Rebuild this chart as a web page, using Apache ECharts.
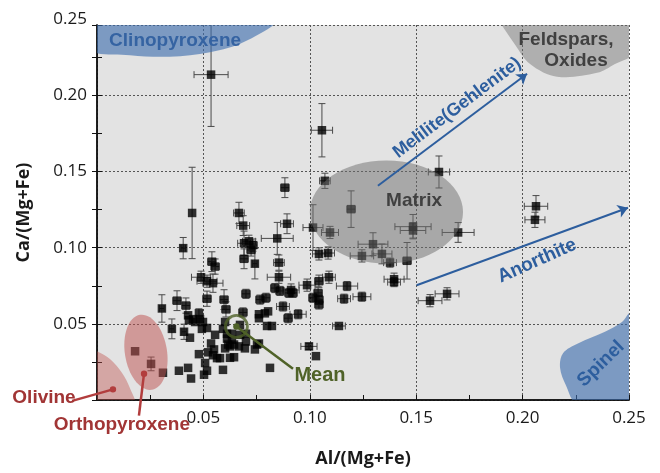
<!DOCTYPE html>
<html><head><meta charset="utf-8">
<script src="https://cdn.jsdelivr.net/npm/echarts@6/dist/echarts.min.js"></script>
<style>html,body{margin:0;padding:0;background:#fff}#c{width:660px;height:473px}</style>
</head><body><div id="c"></div>
<script>
// ---------- data ----------
const xTickLabels = [0.05, 0.10, 0.15, 0.20, 0.25];
const yTickLabels = [0.05, 0.10, 0.15, 0.20, 0.25];

const sampleX = [0.0536,0.0447,0.1057,0.1071,0.0883,0.1607,0.2063,0.2058,0.1194,0.1485,0.1485,0.1697,0.1095,0.1015,0.0667,0.0687,0.0893,0.0847,0.0405,0.0691,0.0714,0.0733,0.0724,0.0691,0.0742,0.1043,0.1086,0.0855,0.0540,0.0555,0.0489,0.0517,0.0545,0.0855,0.1090,0.1043,0.0987,0.0836,0.0860,0.0912,0.0921,0.0902,0.1015,0.1039,0.1043,0.1043,0.0700,0.0766,0.0794,0.0517,0.0597,0.0376,0.0418,0.0305,0.0606,0.0686,0.0874,0.0898,0.0945,0.0761,0.0789,0.0804,0.0761,0.0799,0.0822,0.1137,0.0428,0.0451,0.0432,0.0479,0.0484,0.0352,0.0409,0.0437,0.0498,0.0517,0.0493,0.0555,0.0536,0.0592,0.0611,0.0602,0.0634,0.0611,0.0634,0.0644,0.0616,0.0672,0.0700,0.0700,0.0667,0.0752,0.0761,0.0695,0.0742,0.0550,0.0578,0.0564,0.0545,0.0479,0.0522,0.0508,0.0517,0.0503,0.0592,0.0644,0.0813,0.0996,0.1029,0.0385,0.0428,0.0442,0.1297,0.1245,0.1339,0.1377,0.1457,0.1396,0.1396,0.1175,0.1161,0.1245,0.1565,0.1645,0.0461,0.0625,0.0602,0.0625,0.0672,0.0179,0.0254,0.0310];
const sampleY = [0.2136,0.1228,0.1771,0.1439,0.1394,0.1497,0.1272,0.1183,0.1253,0.1138,0.1113,0.1100,0.1100,0.1132,0.1228,0.1145,0.1157,0.1061,0.0997,0.1029,0.1042,0.1017,0.0985,0.0927,0.0895,0.0959,0.0965,0.0902,0.0908,0.0876,0.0806,0.0780,0.0767,0.0806,0.0806,0.0780,0.0754,0.0735,0.0716,0.0722,0.0703,0.0703,0.0671,0.0703,0.0659,0.0627,0.0697,0.0659,0.0671,0.0665,0.0659,0.0652,0.0620,0.0601,0.0595,0.0575,0.0614,0.0537,0.0563,0.0537,0.0569,0.0582,0.0563,0.0486,0.0486,0.0486,0.0556,0.0531,0.0524,0.0569,0.0531,0.0467,0.0448,0.0409,0.0512,0.0473,0.0467,0.0428,0.0371,0.0467,0.0435,0.0512,0.0435,0.0403,0.0396,0.0364,0.0364,0.0428,0.0435,0.0384,0.0352,0.0364,0.0371,0.0339,0.0332,0.0332,0.0275,0.0275,0.0294,0.0301,0.0313,0.0243,0.0192,0.0166,0.0198,0.0281,0.0211,0.0352,0.0288,0.0192,0.0211,0.0141,0.1023,0.0946,0.0959,0.0902,0.0914,0.0793,0.0774,0.0748,0.0665,0.0678,0.0652,0.0697,0.0512,0.0352,0.0339,0.0277,0.0493,0.0320,0.0237,0.0179];
const sampleXErr = [0.008,0,0.005,0.0025,0.002,0.005,0.0055,0.0047,0.002,0.0085,0.006,0.0075,0.004,0.0047,0.0025,0.003,0.003,0.0075,0.001,0.003,0.003,0.002,0.002,0.002,0.001,0.003,0.003,0.0025,0.002,0.002,0.0045,0.0047,0.0047,0.0055,0.003,0.002,0.0038,0.002,0.002,0.0038,0.002,0.002,0.002,0.002,0.002,0.002,0.002,0.002,0.002,0.002,0.002,0.002,0.002,0.001,0.002,0.002,0.003,0.002,0.0038,0,0,0,0,0,0,0.003,0,0,0,0,0,0.001,0.001,0,0,0,0,0,0,0,0,0,0,0,0,0,0,0,0,0,0,0,0,0,0,0,0,0,0,0,0,0,0,0,0,0,0,0.0038,0,0,0,0,0.007,0.0055,0.0047,0.003,0.002,0.0047,0.003,0.005,0.003,0.0042,0.0056,0.0056,0,0,0,0,0,0,0,0];
const sampleYErr = [0.034,0.030,0.0175,0.005,0.0065,0.0105,0.007,0.005,0.012,0.008,0.005,0.0065,0.004,0.015,0.007,0.0065,0.0065,0.0105,0.007,0.008,0.004,0.004,0.004,0.0065,0.010,0.004,0.004,0.005,0.0065,0.005,0.004,0.004,0.006,0.004,0.004,0.004,0.004,0.003,0.003,0.004,0.003,0.003,0.003,0.004,0.003,0.003,0.003,0.003,0.003,0.005,0.0065,0.0065,0.005,0.009,0.005,0.003,0.003,0.003,0.003,0,0,0,0,0,0,0,0,0,0,0.003,0,0.0065,0.005,0,0,0,0,0,0,0,0,0,0,0,0,0,0,0,0,0,0,0,0,0,0,0,0,0,0,0,0,0,0,0,0,0,0,0.002,0,0,0,0,0.0075,0.004,0.0065,0.003,0.012,0.004,0.003,0.003,0.003,0.003,0.004,0.004,0,0,0,0,0,0,0.0045,0];

const meanPoint = [0.0655, 0.0483];

// ---------- annotation geometry (data coordinates) ----------
const clinopyroxeneOutline = [[-0.004,0.2494],[-0.004,0.2302],[0.0155,0.2263],[0.0343,0.2254],[0.0531,0.2283],[0.0695,0.2353],[0.0836,0.2494]];
const feldsparsOutline = [[0.187,0.2526],[0.1908,0.2449],[0.1964,0.2334],[0.2035,0.2206],[0.2162,0.2123],[0.235,0.2148],[0.2434,0.2206],[0.2552,0.2302],[0.2552,0.2526]];
const spinelOutline = [[0.226,-0.0032],[0.2204,0.0096],[0.2176,0.0211],[0.219,0.0307],[0.226,0.0371],[0.2387,0.0448],[0.2467,0.0512],[0.2505,0.0575],[0.2552,0.0588],[0.2552,-0.0064]];
const olivineOutline = [[-0.0056,0.0352],[0,0.032],[0.0061,0.0269],[0.0117,0.0179],[0.0155,0.0077],[0.0174,-0.0032],[-0.0056,-0.0032]];
const matrixEllipse = {c:[0.136,0.1234], r:[0.036,0.0339], rot:0};
const orthoEllipse = {c:[0.023,0.0313], r:[0.0099,0.0249], rot:9};
const melilitieArrow = [[0.132,0.1407],[0.2021,0.2142]];
const anorthiteArrow = [[0.1502,0.0753],[0.2495,0.1262]];

const BLUE = '#2d5e9e', GRAY_T = '#404040', RED = '#a13535', GREEN = '#4f6228';
const labels = [
  {text:'Clinopyroxene', at:[0.0367,0.2359], color:'#3563a2', size:19, rot:0},
  {text:'Feldspars,', at:[0.2204,0.2366], color:GRAY_T, size:19, rot:0},
  {text:'Oxides', at:[0.2251,0.2225], color:GRAY_T, size:19, rot:0},
  {text:'Matrix', at:[0.149,0.1311], color:GRAY_T, size:19, rot:0},
  {text:'Melilite(Gehlenite)', at:[0.1692,0.1918], color:BLUE, size:18, rot:37},
  {text:'Anorthite', at:[0.2068,0.0914], color:BLUE, size:19, rot:24},
  {text:'Spinel', at:[0.2368,0.0237], color:BLUE, size:19, rot:44},
  {text:'Olivine', at:[-0.0249,0.0013], color:RED, size:19, rot:0},
  {text:'Orthopyroxene', at:[0.0117,-0.016], color:RED, size:19, rot:0},
  {text:'Mean', at:[0.1048,0.016], color:GREEN, size:20, rot:0}
];
const leaders = [
  {from:[-0.0117,-0.0006], to:[0.0075,0.007], color:'#b23d3d', dot:true},
  {from:[0.0197,-0.0102], to:[0.0221,0.0173], color:'#b23d3d', dot:true},
  {from:[0.0921,0.0205], to:meanPoint, color:GREEN, dot:true}
];

// ---------- chart ----------
const Y_MAX = 0.2462;
const pts = sampleX.map((x,i)=>[x, sampleY[i], sampleXErr[i], sampleYErr[i]]);
const isTick = (arr, v) => arr.some(t => Math.abs(t - v) < 1e-9);
const axisFont = {fontFamily:'Open Sans', fontSize:17, color:'#1a1a1a'};

const shapes = [
  {kind:'poly', pts:clinopyroxeneOutline, color:'rgba(62,110,175,0.62)'},
  {kind:'poly', pts:feldsparsOutline, color:'rgba(110,110,110,0.45)'},
  {kind:'poly', pts:spinelOutline, color:'rgba(62,110,175,0.62)'},
  {kind:'poly', pts:olivineOutline, color:'rgba(190,80,77,0.42)'},
  {kind:'ell', e:matrixEllipse, color:'rgba(110,110,110,0.5)'},
  {kind:'ell', e:orthoEllipse, color:'rgba(190,80,77,0.5)'}
];

const option = {
  animation:false,
  backgroundColor:'#ffffff',
  grid:{left:97, right:31, top:25, bottom:63, show:true, backgroundColor:'#e3e3e3', borderWidth:0},
  xAxis:[{
    type:'value', min:0, max:0.25, interval:0.05, position:'bottom',
    name:'Al/(Mg+Fe)', nameLocation:'middle', nameGap:50,
    nameTextStyle:{fontFamily:'Open Sans', fontWeight:'bold', fontSize:18, color:'#1a1a1a'},
    axisLine:{show:true, lineStyle:{color:'#111', width:1.5}},
    axisTick:{show:true, inside:true, length:5, lineStyle:{color:'#111'}},
    minorTick:{show:true, splitNumber:2, length:5, lineStyle:{color:'#111'}},
    axisLabel:Object.assign({margin:10, formatter:v=> (isTick(xTickLabels,v) ? v.toFixed(2) : '')}, axisFont),
    splitLine:{show:true, lineStyle:{color:'#555', type:[2,2], width:1}}
  },{
    type:'value', min:0, max:0.25, position:'top',
    axisLine:{show:true, lineStyle:{color:'#111', width:1.5}},
    axisTick:{show:false}, axisLabel:{show:false}, splitLine:{show:false}
  }],
  yAxis:[{
    type:'value', min:0, max:Y_MAX, interval:0.05, position:'left',
    name:'Ca/(Mg+Fe)', nameLocation:'middle', nameGap:64,
    nameTextStyle:{fontFamily:'Open Sans', fontWeight:'bold', fontSize:18, color:'#1a1a1a'},
    axisLine:{show:true, lineStyle:{color:'#111', width:1.5}},
    axisTick:{show:true, inside:true, length:5, lineStyle:{color:'#111'}},
    minorTick:{show:true, splitNumber:2, length:5, lineStyle:{color:'#111'}},
    axisLabel:Object.assign({margin:10, formatter:v=> (isTick(yTickLabels,v) ? v.toFixed(2) : '')}, axisFont),
    splitLine:{show:true, lineStyle:{color:'#555', type:[2,2], width:1}}
  },{
    type:'value', min:0, max:Y_MAX, interval:0.05, position:'right',
    axisLine:{show:true, lineStyle:{color:'#111', width:1.5}},
    axisTick:{show:true, inside:true, length:5, lineStyle:{color:'#111'}},
    minorTick:{show:true, splitNumber:2, length:5, lineStyle:{color:'#111'}},
    axisLabel:{show:false}, splitLine:{show:false}
  }],
  series:[
    {
      type:'custom', name:'errors', clip:true, z:1,
      data: pts,
      renderItem(params, api){
        const x=api.value(0), y=api.value(1), xe=api.value(2), ye=api.value(3);
        const c=api.coord([x,y]);
        const st={stroke:'#4a4a4a', lineWidth:1};
        const ch=[];
        if(ye>0){
          const t=api.coord([x,y+ye])[1], b=api.coord([x,y-ye])[1];
          ch.push({type:'line', shape:{x1:c[0],y1:t,x2:c[0],y2:b}, style:st});
          ch.push({type:'line', shape:{x1:c[0]-3.5,y1:t,x2:c[0]+3.5,y2:t}, style:st});
          ch.push({type:'line', shape:{x1:c[0]-3.5,y1:b,x2:c[0]+3.5,y2:b}, style:st});
        }
        if(xe>0){
          const l=api.coord([x-xe,y])[0], r=api.coord([x+xe,y])[0];
          ch.push({type:'line', shape:{x1:l,y1:c[1],x2:r,y2:c[1]}, style:st});
          ch.push({type:'line', shape:{x1:l,y1:c[1]-3.5,x2:l,y2:c[1]+3.5}, style:st});
          ch.push({type:'line', shape:{x1:r,y1:c[1]-3.5,x2:r,y2:c[1]+3.5}, style:st});
        }
        return {type:'group', children:ch};
      }
    },
    {
      type:'scatter', name:'samples', symbol:'rect', symbolSize:8.5, z:2,
      itemStyle:{color:'#000'}, data: pts.map(p=>[p[0],p[1]])
    },
    {
      type:'custom', name:'fields', clip:true, z:3,
      data: shapes.map((s,i)=>[i]),
      renderItem(params, api){
        const s=shapes[params.dataIndex];
        if(s.kind==='poly'){
          return {type:'polygon', shape:{points:s.pts.map(p=>api.coord(p)), smooth:0.35}, style:{fill:s.color}};
        }
        const c=api.coord(s.e.c), sz=api.size(s.e.r);
        return {type:'ellipse', shape:{cx:c[0], cy:c[1], rx:sz[0], ry:sz[1]},
                originX:c[0], originY:c[1], rotation:s.e.rot*Math.PI/180, style:{fill:s.color}};
      }
    },
    {
      type:'lines', coordinateSystem:'cartesian2d', z:4,
      symbol:['none','arrow'], symbolSize:10,
      lineStyle:{color:BLUE, width:2, opacity:1},
      data:[{coords:melilitieArrow},{coords:anorthiteArrow}]
    },
    {
      type:'scatter', name:'mean', z:5, symbol:'circle', symbolSize:22,
      itemStyle:{color:'rgba(0,0,0,0)', borderColor:GREEN, borderWidth:2.8},
      data:[meanPoint]
    }
  ]
};

const chart = echarts.init(document.getElementById('c'));
chart.setOption(option);

const P = v => chart.convertToPixel({gridIndex:0}, v);
const graphics = [];
leaders.forEach(l=>{
  const a=P(l.from), b=P(l.to);
  graphics.push({type:'line', shape:{x1:a[0],y1:a[1],x2:b[0],y2:b[1]}, style:{stroke:l.color, lineWidth:2.5}, z:100});
  if(l.dot) graphics.push({type:'circle', shape:{cx:b[0],cy:b[1],r:3.2}, style:{fill:l.color}, z:100});
});
labels.forEach(t=>{
  const p=P(t.at);
  graphics.push({type:'text', x:p[0], y:p[1], rotation:t.rot*Math.PI/180, z:101,
    style:{text:t.text, fill:t.color, font:'bold '+t.size+'px "Liberation Sans", Arial, sans-serif',
      align:'center', verticalAlign:'middle', textAlign:'center', textVerticalAlign:'middle'}});
});
// top y tick label (0.25) sits just above the clipped plot frame
const topLab = P([0, yTickLabels[yTickLabels.length-1]]);
graphics.push({type:'text', x:topLab[0]-10, y:topLab[1], z:101,
  style:{text:yTickLabels[yTickLabels.length-1].toFixed(2), fill:'#1a1a1a', font:'17px "Open Sans"',
    align:'right', verticalAlign:'middle', textAlign:'right', textVerticalAlign:'middle'}});
chart.setOption({graphic:graphics});
</script>
</body></html>
